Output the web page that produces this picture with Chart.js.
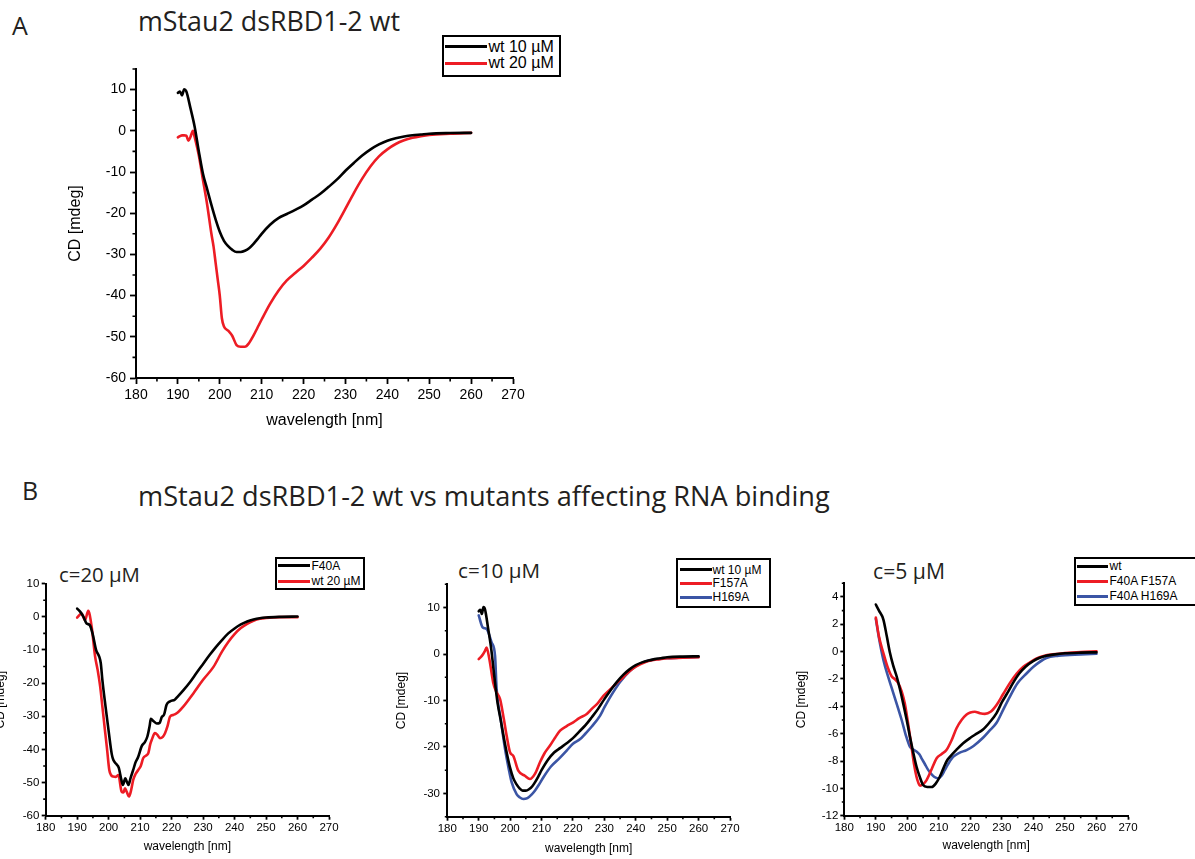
<!DOCTYPE html>
<html><head><meta charset="utf-8">
<script src="https://cdn.jsdelivr.net/npm/chart.js@4.4.1/dist/chart.umd.min.js"></script>
<style>
html,body{margin:0;padding:0;background:#fff;width:1195px;height:859px;overflow:hidden;position:relative;}
.t{position:absolute;font-family:"Open Sans",sans-serif;color:#231f20;white-space:nowrap;line-height:1;}
canvas{position:absolute;}
.lg{position:absolute;border:2.5px solid #000;background:#fff;box-sizing:border-box;font-family:"Liberation Sans",Arial,sans-serif;color:#000;}
.lg .sw{position:absolute;}
.lg .tx{position:absolute;white-space:nowrap;line-height:1;}
</style></head><body>

<div class="t" id="tA" style="left:12px;top:13px;font-size:25px;">A</div>
<div class="t" id="tAt" data-w="262" data-base="32.2" style="left:138px;top:10px;font-size:25px;">mStau2 dsRBD1-2 wt</div>
<div class="t" id="tB" style="left:22px;top:478px;font-size:25px;">B</div>
<div class="t" id="tBt" data-w="692" data-base="506.5" style="left:138px;top:484px;font-size:25px;">mStau2 dsRBD1-2 wt vs mutants affecting RNA binding</div>
<div class="t" data-w="81" data-base="581.7" style="left:59px;top:563px;font-size:20px;">c=20 µM</div>
<div class="t" data-w="82" data-base="578" style="left:458px;top:559px;font-size:20px;">c=10 µM</div>
<div class="t" data-w="72" data-base="578.3" style="left:873px;top:559px;font-size:20px;">c=5 µM</div>

<canvas id="cA" width="600" height="440" style="left:0px;top:0px;"></canvas>
<canvas id="cB1" width="400" height="319" style="left:-40px;top:540px;"></canvas>
<canvas id="cB2" width="400" height="319" style="left:380px;top:540px;"></canvas>
<canvas id="cB3" width="415" height="319" style="left:780px;top:540px;"></canvas>

<script>
// ---------------- DATA ----------------
const xTickLabels = [180, 190, 200, 210, 220, 230, 240, 250, 260, 270];
const yTicksA  = [10, 0, -10, -20, -30, -40, -50, -60];
const yTicksB1 = [10, 0, -10, -20, -30, -40, -50, -60];
const yTicksB2 = [10, 0, -10, -20, -30];
const yTicksB3 = [4, 2, 0, -2, -4, -6, -8, -10, -12];

// Panel A / B (c=10 µM): wt 10 µM
const wt10X = [190,190.5,191,191.5,192,193,194,195,196,197,198,199,200,201,202,203,204,205,206,207,208,209,210,212,214,216,218,220,222,224,226,228,230,232,234,236,238,240,242,244,246,248,250,255,260];
const wt10Y = [9.2,9.5,8.6,10.1,9.6,5.5,1,-5,-10.5,-14.2,-18,-21.5,-24.5,-26.7,-28,-28.9,-29.4,-29.4,-29.1,-28.5,-27.5,-26.3,-25,-22.8,-21.2,-20.2,-19.2,-18.1,-16.7,-15.3,-13.6,-11.8,-9.7,-7.8,-6.0,-4.5,-3.3,-2.4,-1.8,-1.4,-1.1,-0.9,-0.7,-0.55,-0.5];

// Panel A: wt 20 µM
const wt20AX = [190,190.5,191,191.5,192,192.5,193,193.6,194,195,196,197,198,198.5,199,199.5,200,200.5,201,202,203,204,205,206,207,208,209,210,212,214,216,218,220,222,224,226,228,230,232,234,236,238,240,242,244,246,248,250,255,260];
const wt20AY = [-1.6,-1.3,-1.1,-1.1,-1.2,-2.4,-1.5,0,-1.5,-6,-12,-18,-25,-28,-32,-36,-40,-45.5,-47.5,-48.5,-49.8,-52,-52.4,-52.4,-51.5,-49.8,-47.8,-45.8,-42,-38.8,-36.3,-34.5,-32.8,-30.8,-28.6,-25.9,-22.6,-18.9,-15.1,-11.6,-8.6,-6.2,-4.5,-3.2,-2.3,-1.7,-1.3,-1.0,-0.7,-0.5];

// Panel B, c=20 µM: F40A
const f40aX = [190,191,192,193,194,195,196,197,197.5,198,199,200,201,201.5,202.5,203.2,204,204.5,205.3,205.8,206.3,207,207.8,208.5,209.4,210.5,211.5,212.3,213,213.4,214.3,215.3,216.2,216.9,217.6,218.4,219.5,221,222,223.7,226,228,230,232,234,236,238,240,242,244,246,248,250,255,260];
const f40aY = [2.5,1.5,0,-2,-2.5,-5.5,-10,-12,-14,-19,-27,-34.5,-41.5,-43.2,-44.5,-45.5,-49,-50.7,-48.7,-49.8,-50.7,-48.5,-46.2,-44,-42.2,-39,-37.8,-36.1,-33,-30.8,-31.5,-32.2,-32,-30.2,-29.5,-26.5,-25.5,-25,-24,-22.2,-19.5,-16.8,-14.2,-11.6,-9.2,-7,-5,-3.5,-2.3,-1.4,-0.8,-0.4,-0.2,0,0.1];

// Panel B, c=20 µM: wt 20 µM
const wt20BX = [190,191.4,192.5,193.5,194.6,195.7,196.5,197.3,198,198.8,199.5,200.2,200.8,201.5,202.3,203.1,204.1,204.7,205.2,205.7,206.5,207.2,207.8,208.5,209.4,210.2,211,212,212.6,213.2,213.7,214.7,215.5,216.3,217.2,217.9,218.7,219.5,220.5,221.6,223.7,226.9,230,233.3,236,238,240,242,244,246,248,250,255,260];
const wt20BY = [-0.2,1,-1,1.8,-3,-12,-16,-21,-27,-34,-40,-46.2,-47.8,-48.2,-48.3,-47.7,-52.7,-53,-51.7,-52.7,-54.2,-52,-49.2,-47.5,-46.2,-45,-42.6,-41.8,-41.1,-38.5,-37.1,-35.1,-35.6,-36.6,-36.2,-35.1,-33,-30.1,-29.6,-29.1,-27.1,-23.1,-19,-15.1,-10.5,-7.6,-5.2,-3.4,-2.1,-1.2,-0.6,-0.3,-0.1,-0.1];

// Panel B, c=10 µM: F157A
const f157aX = [190,191,192,192.5,193.4,194.6,195.5,196.8,198,198.9,200,201,202.6,204.7,206.3,207.9,209.5,211,212.7,214.3,215.9,218,220.1,222,224.4,226,228,229.7,232,234,236,238,240,241.4,244,247.7,250,255,260];
const f157aY = [-1.1,-0.4,0.7,1.4,-1.1,-6.1,-8,-9.7,-14,-17.6,-21.2,-21.9,-25.1,-26.2,-26.9,-25.8,-23.3,-21.3,-19.7,-18,-16.5,-15.5,-14.7,-13.8,-12.9,-11.8,-10.5,-9.0,-7.5,-6.2,-5.0,-3.7,-2.7,-2.2,-1.5,-1.1,-0.9,-0.8,-0.7];

// Panel B, c=10 µM: H169A
const h169aX = [190,191.3,192.5,194.1,195.2,195.7,197,198.4,199.5,200.5,202.1,203,204.2,205.5,206.9,208,209,210.6,213,215.9,218,220,222.3,224,226,228.6,230,232,235,238,240,242.4,245,250,255,260];
const h169aY = [8.3,5.7,5.4,2.5,-0.4,-7.5,-14,-20.5,-24.5,-27.6,-30.2,-30.8,-31.2,-31,-30.2,-29.3,-28.3,-26.5,-24.2,-22.3,-20.8,-19.3,-18.3,-17.1,-15.6,-13.3,-11.5,-9.1,-6.0,-3.7,-2.6,-1.8,-1.3,-0.9,-0.75,-0.65];

// Panel B, c=5 µM: wt
const wt5X = [190,191,192.4,193.5,194.5,195.5,196.6,197.6,198.7,199.8,200.8,201.8,202.9,204,205,206.3,207.7,209,210.3,211.5,212.5,213.5,215.5,217.7,220,222,224,226,228.3,230,231.8,233.5,235.5,237.5,239.9,242,244,246.2,250,255,260];
const wt5Y = [3.45,3.0,2.35,1.1,-0.1,-1.0,-1.8,-2.7,-3.8,-5.0,-6.2,-7.3,-8.4,-9.2,-9.76,-9.9,-9.9,-9.65,-9.15,-8.5,-8.0,-7.7,-7.2,-6.7,-6.3,-6.0,-5.7,-5.2,-4.5,-3.7,-3.0,-2.3,-1.6,-1.1,-0.7,-0.45,-0.3,-0.22,-0.12,-0.07,-0.05];

// Panel B, c=5 µM: F40A F157A
const f40af157aX = [190,191,192.4,193.7,195,196,197.1,198.2,199.2,200.2,201.3,202.1,202.9,203.5,204,205,206.1,207.7,209.3,210.8,212.4,214,215.6,217.2,218.8,220,221.4,223,224.6,226.4,228.3,230.4,232.5,234.7,236.8,238.8,241,243.5,246.2,250,255,260];
const f40af157aY = [2.5,1.1,-0.1,-1.1,-1.8,-2.0,-2.3,-2.9,-3.8,-5.2,-6.9,-8.2,-9.15,-9.6,-9.8,-9.7,-9.4,-8.6,-7.8,-7.5,-7.2,-6.5,-5.6,-5.0,-4.6,-4.45,-4.4,-4.5,-4.55,-4.4,-3.9,-3.1,-2.3,-1.6,-1.1,-0.8,-0.5,-0.3,-0.2,-0.1,-0.02,0.02];

// Panel B, c=5 µM: F40A H169A
const f40ah169aX = [190,191,192.4,194,195.5,197,198.2,199.5,200.8,201.8,202.9,203.8,204.5,205.5,206.6,208,209,209.8,210.8,211.9,213,214.5,216.5,218.8,221,224,226,228.3,230.5,232.5,235,237.8,240,244.1,248,255,260];
const f40ah169aY = [2.4,1.0,-0.6,-1.9,-3.0,-4.1,-5.0,-6.1,-6.95,-7.15,-7.3,-7.5,-7.8,-8.2,-8.65,-9.05,-9.22,-9.27,-9.1,-8.65,-8.2,-7.7,-7.4,-7.2,-6.9,-6.3,-5.8,-5.2,-4.2,-3.3,-2.3,-1.6,-1.1,-0.46,-0.3,-0.2,-0.15];

// ---------------- HELPERS ----------------
const RED = '#ed1c24', BLUE = '#3b55a5', BLACK = '#000000';
function pts(xs, ys) { return xs.map((x, i) => ({x: x, y: ys[i]})); }

const minorTicks = {
  id: 'minorTicks',
  afterDraw(chart, args, o) {
    if (!o || !o.x) return;
    const ctx = chart.ctx, xs = chart.scales.x, ys = chart.scales.y;
    const xm = xs.ticks.map(t => t.value), ym = ys.ticks.map(t => t.value);
    ctx.save(); ctx.strokeStyle = '#000'; ctx.lineWidth = o.w; ctx.beginPath();
    for (let v = xs.min; v <= xs.max + 1e-9; v += o.x) {
      if (xm.some(m => Math.abs(m - v) < 1e-6)) continue;
      const p = xs.getPixelForValue(v);
      ctx.moveTo(p, xs.top); ctx.lineTo(p, xs.top + o.len);
    }
    for (let v = ys.min; v <= ys.max + 1e-9; v += o.y) {
      if (ym.some(m => Math.abs(m - v) < 1e-6)) continue;
      const p = ys.getPixelForValue(v);
      ctx.moveTo(ys.right, p); ctx.lineTo(ys.right - o.len, p);
    }
    ctx.stroke(); ctx.restore();
  }
};
Chart.register(minorTicks);

function makeChart(id, c) {
  const tickFont = {family: '"Liberation Sans", Arial, sans-serif', size: c.tickSize};
  const titleFont = {family: '"Liberation Sans", Arial, sans-serif', size: c.titleSize};
  return new Chart(document.getElementById(id), {
    type: 'line',
    data: {datasets: c.series.map(s => ({
      label: s.label, data: pts(s.x, s.y), borderColor: s.color, backgroundColor: s.color,
      borderWidth: c.lw, pointRadius: 0, fill: false, cubicInterpolationMode: 'monotone',
      borderJoinStyle: 'round', borderCapStyle: 'round'
    }))},
    options: {
      responsive: false, animation: false, devicePixelRatio: 1,
      layout: {padding: c.pad},
      plugins: {legend: {display: false}, tooltip: {enabled: false},
                minorTicks: {x: c.xMinor, y: c.yMinor, len: c.minorLen, w: 1.6}},
      scales: {
        x: {
          type: 'linear', position: 'bottom', min: 180, max: 270,
          afterBuildTicks: s => { s.ticks = xTickLabels.map(v => ({value: v})); },
          afterFit: s => { s.height = c.xHeight; },
          ticks: {font: tickFont, color: '#000', padding: c.xTickPad, maxRotation: 0, autoSkip: false, callback: v => String(v)},
          grid: {drawOnChartArea: false, drawTicks: true, tickLength: c.tickLen, tickColor: '#000', tickWidth: 1.8},
          border: {display: true, color: '#000', width: 2},
          title: {display: true, text: 'wavelength [nm]', font: titleFont, color: '#000', padding: {top: 0, bottom: c.xTitlePad}}
        },
        y: {
          type: 'linear', position: 'left', min: c.yMin, max: c.yMax,
          afterBuildTicks: s => { s.ticks = c.yTicks.map(v => ({value: v})); },
          afterFit: s => { s.width = c.yWidth; },
          ticks: {font: tickFont, color: '#000', padding: c.yTickPad, autoSkip: false, callback: v => String(v)},
          grid: {drawOnChartArea: false, drawTicks: true, tickLength: c.tickLen, tickColor: '#000', tickWidth: 1.8},
          border: {display: true, color: '#000', width: 2},
          title: {display: true, text: 'CD [mdeg]', font: titleFont, color: '#000', padding: {top: c.yTitlePad, bottom: 0}}
        }
      }
    }
  });
}

function makeLegend(chart, L) {
  const d = document.createElement('div');
  d.className = 'lg';
  d.style.cssText += `left:${L.left}px;top:${L.top}px;width:${L.width}px;height:${L.height}px;border-width:${L.bw}px;font-size:${L.font}px;`;
  chart.data.datasets.forEach((ds, i) => {
    const cy = L.rows[i] - L.top - L.bw;
    const sw = document.createElement('div');
    sw.className = 'sw';
    sw.style.cssText = `left:${L.lineX - L.left - L.bw}px;top:${cy - L.lw / 2}px;width:${L.lineW}px;height:${L.lw}px;background:${ds.borderColor};`;
    const tx = document.createElement('div');
    tx.className = 'tx';
    tx.textContent = ds.label;
    tx.style.cssText = `left:${L.textX - L.left - L.bw}px;top:${cy - L.font * 0.5}px;`;
    d.appendChild(sw); d.appendChild(tx);
  });
  document.body.appendChild(d);
}

// ---------------- CHARTS ----------------
const chA = makeChart('cA', {
  pad: {left: 60, right: 87, top: 69, bottom: 10}, yWidth: 76, xHeight: 52,
  yMin: -60, yMax: 15, yTicks: yTicksA, xMinor: 5, yMinor: 5,
  tickSize: 14, titleSize: 16, tickLen: 6, minorLen: 3.5, xTickPad: 3, yTickPad: 4,
  yTitlePad: 6.4, xTitlePad: 0, lw: 2.6,
  series: [
    {label: 'wt 10 µM', x: wt10X, y: wt10Y, color: BLACK},
    {label: 'wt 20 µM', x: wt20AX, y: wt20AY, color: RED}
  ]
});
makeLegend(chA, {left: 442, top: 35, width: 119, height: 42, bw: 2.5, font: 16, rows: [47, 63.5], lineX: 445, lineW: 42, textX: 489, lw: 3});

const chB1 = makeChart('cB1', {
  pad: {left: 30, right: 31, top: 43.7, bottom: 4.3}, yWidth: 55.7, xHeight: 39,
  yMin: -60, yMax: 10, yTicks: yTicksB1, xMinor: 5, yMinor: 5,
  tickSize: 11.5, titleSize: 12, tickLen: 4, minorLen: 2.5, xTickPad: 1.7, yTickPad: 2.4,
  yTitlePad: 3.8, xTitlePad: 0.8, lw: 2.6,
  series: [
    {label: 'F40A', x: f40aX, y: f40aY, color: BLACK},
    {label: 'wt 20 µM', x: wt20BX, y: wt20BY, color: RED}
  ]
});
makeLegend(chB1, {left: 275, top: 557, width: 90, height: 33, bw: 2.5, font: 12, rows: [566, 581.5], lineX: 278, lineW: 32, textX: 312, lw: 3});

const chB2 = makeChart('cB2', {
  pad: {left: 10, right: 50, top: 44.3, bottom: 3.3}, yWidth: 57.3, xHeight: 39,
  yMin: -35, yMax: 15, yTicks: yTicksB2, xMinor: 5, yMinor: 5,
  tickSize: 11.5, titleSize: 12, tickLen: 4, minorLen: 2.5, xTickPad: 1, yTickPad: 3.3,
  yTitlePad: 4.8, xTitlePad: 0.2, lw: 2.6,
  series: [
    {label: 'wt 10 µM', x: wt10X, y: wt10Y, color: BLACK},
    {label: 'F157A', x: f157aX, y: f157aY, color: RED},
    {label: 'H169A', x: h169aX, y: h169aY, color: BLUE}
  ]
});
makeLegend(chB2, {left: 676, top: 558, width: 95, height: 50, bw: 2.5, font: 12, rows: [570, 583.5, 597.7], lineX: 680, lineW: 32, textX: 713, lw: 3});

const chB3 = makeChart('cB3', {
  pad: {left: 10, right: 67, top: 43.3, bottom: 4.3}, yWidth: 54.3, xHeight: 39,
  yMin: -12, yMax: 5, yTicks: yTicksB3, xMinor: 5, yMinor: 1,
  tickSize: 11.5, titleSize: 12, tickLen: 4, minorLen: 2.5, xTickPad: 1.1, yTickPad: 2,
  yTitlePad: 4.5, xTitlePad: 1.5, lw: 2.6,
  series: [
    {label: 'wt', x: wt5X, y: wt5Y, color: BLACK},
    {label: 'F40A F157A', x: f40af157aX, y: f40af157aY, color: RED},
    {label: 'F40A H169A', x: f40ah169aX, y: f40ah169aY, color: BLUE}
  ]
});
makeLegend(chB3, {left: 1074, top: 557, width: 140, height: 49, bw: 2.5, font: 12, rows: [566.7, 581.7, 596.7], lineX: 1077, lineW: 31, textX: 1110, lw: 3});

// fit title widths to the reference by scaling the font size, keep the baseline
document.querySelectorAll('.t[data-w]').forEach(el => {
  const target = +el.dataset.w, w = el.getBoundingClientRect().width;
  const s0 = parseFloat(el.style.fontSize);
  const s = s0 * target / w;
  el.style.fontSize = s.toFixed(2) + 'px';
  el.style.top = (+el.dataset.base - 0.888 * s).toFixed(1) + 'px';
});
</script>
</body></html>
